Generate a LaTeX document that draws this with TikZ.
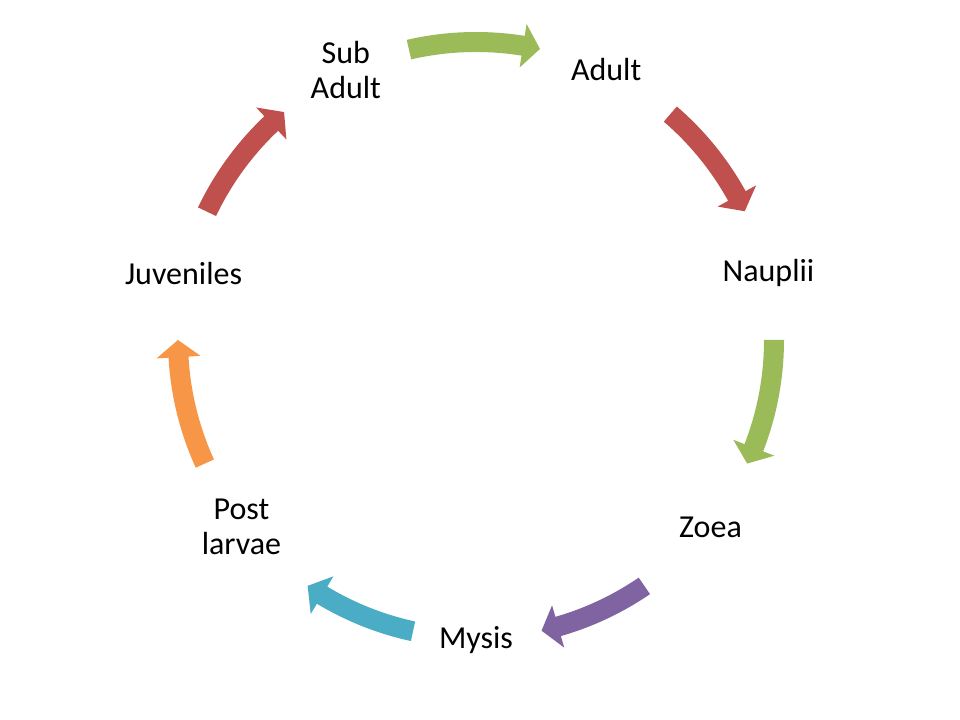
\documentclass[tikz,border=0pt]{standalone}
\usepackage{fontspec}
\setmainfont{Carlito}
\definecolor{cgreen}{HTML}{9BBB59}
\definecolor{cred}{HTML}{C0504D}
\definecolor{cpurple}{HTML}{8064A2}
\definecolor{cteal}{HTML}{4BACC6}
\definecolor{corange}{HTML}{F79646}
% #1 colour, #2 tail angle, #3 tip angle (clockwise)
\newcommand\cycarrow[3]{%
  \pgfmathsetmacro\aT{#2}%
  \pgfmathsetmacro\aH{#3}%
  \pgfmathsetmacro\aB{#3+3.3}%
  \fill[#1] (\aT:308) arc[start angle=\aT,end angle=\aB,radius=308]
    -- (\aB:320) -- (\aH:298) -- (\aB:276) -- (\aB:288)
    arc[start angle=\aB,end angle=\aT,radius=288] -- cycle;}
\begin{document}
\begin{tikzpicture}[x=0.75pt,y=0.75pt,
  lbl/.style={font=\fontsize{24}{26}\selectfont, align=center, inner sep=0pt, text=black}]
\useasboundingbox (0,0) rectangle (960,720);
\fill[white] (0,0) rectangle (960,720);
\begin{scope}[shift={(476,380)}]
  \node[lbl] (mysis)    at (-90:300)     {Mysis};
  \node[lbl] (zoea)     at (-38.571:300) {Zoea};
  \node[lbl] (nauplii)  at (12.857:300)  {Nauplii};
  \node[lbl] (adult)    at (64.286:300)  {Adult};
  \node[lbl] (subadult) at (115.714:300) {Sub\\Adult};
  \node[lbl] (juv)      at (167.143:300) {Juveniles};
  \node[lbl] (post)     at (218.571:300) {Post\\larvae};
  \cycarrow{cgreen}{103}{77.6}
  \cycarrow{cred}{49.3}{25.6}
  \cycarrow{cgreen}{0}{-24.5}
  \cycarrow{cpurple}{-55.6}{-77.3}
  \cycarrow{cteal}{-102.2}{-124.4}
  \cycarrow{corange}{-155.5}{-180}
  \cycarrow{cred}{154.5}{130.1}
\end{scope}
\end{tikzpicture}
\end{document}
